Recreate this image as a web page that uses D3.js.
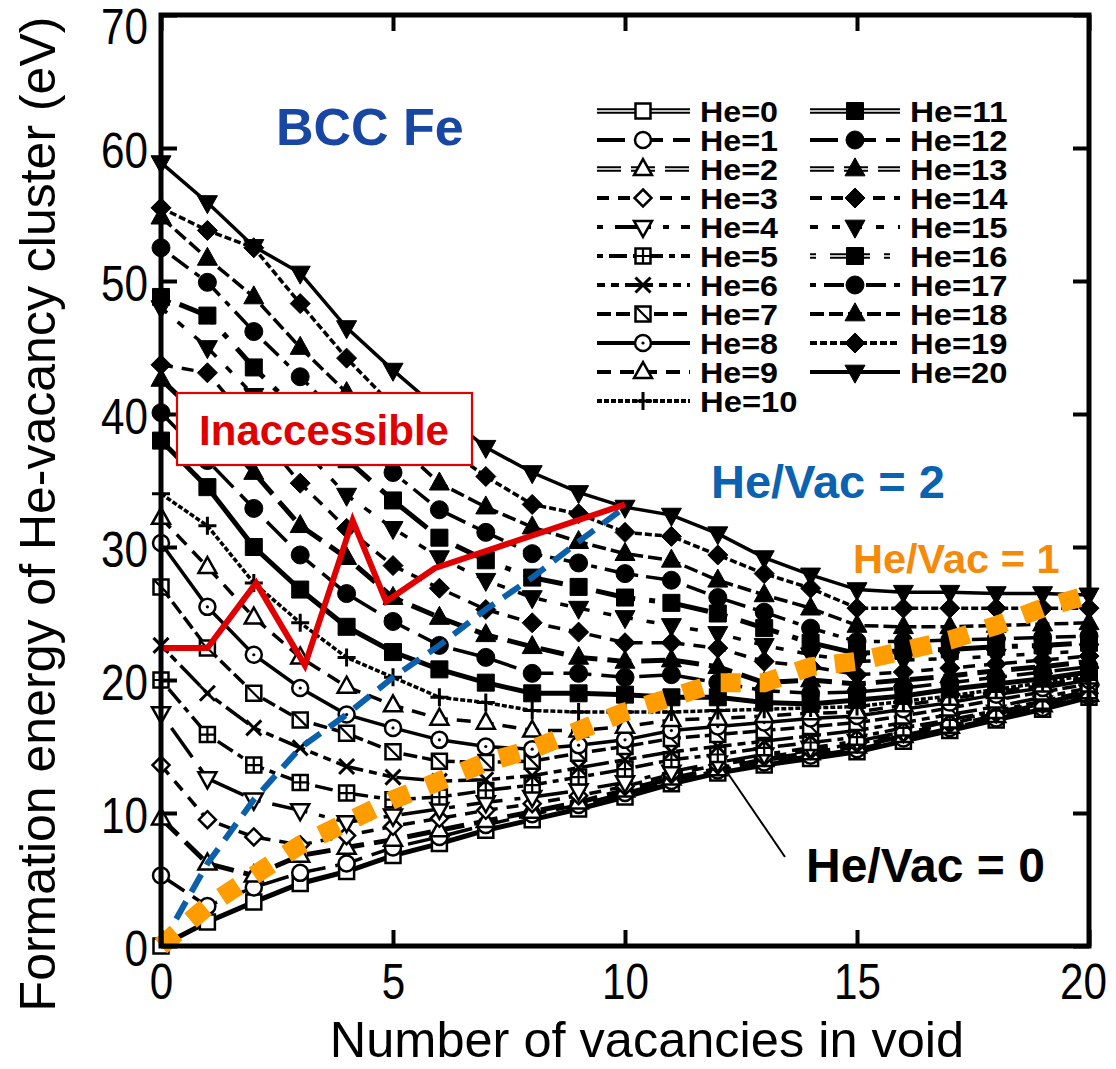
<!DOCTYPE html>
<html>
<head>
<meta charset="utf-8">
<script src="https://cdn.jsdelivr.net/npm/d3@7"></script>
<style>
  body { margin: 0; background: #fff; }
  svg { display: block; }
</style>
</head>
<body>
<svg id="chart" width="1116" height="1069"></svg>
<script>
// Formation energy (eV) of He_n V_m clusters in BCC Fe, m = 0..20 vacancies
const vacancies = d3.range(0, 21);

const he0  = [0.0, 1.8, 3.3, 4.7, 5.6, 6.8, 7.7, 8.7, 9.5, 10.3, 11.2, 12.2, 13.0, 13.6, 14.1, 14.6, 15.4, 16.2, 17.0, 17.8, 18.7];
const he1  = [5.3, 3.0, 4.4, 5.5, 6.2, 7.4, 8.2, 9.1, 9.9, 10.6, 11.5, 12.4, 13.2, 13.8, 14.3, 14.8, 15.6, 16.4, 17.1, 17.9, 18.8];
const he2  = [9.6, 6.2, 5.3, 6.8, 7.4, 8.0, 8.7, 9.4, 10.1, 10.8, 11.7, 12.6, 13.3, 14.0, 14.5, 15.0, 15.8, 16.5, 17.3, 18.1, 18.9];
const he3  = [13.6, 9.5, 8.2, 7.6, 8.3, 9.0, 9.6, 10.2, 10.7, 11.3, 12.0, 12.9, 13.6, 14.2, 14.7, 15.2, 16.0, 16.7, 17.5, 18.2, 19.0];
const he4  = [17.5, 12.6, 11.0, 10.2, 9.3, 9.8, 10.3, 10.8, 11.2, 11.7, 12.3, 13.1, 13.8, 14.4, 14.9, 15.4, 16.1, 16.9, 17.6, 18.3, 19.1];
const he5  = [20.0, 15.9, 13.6, 12.3, 11.5, 11.0, 11.2, 11.7, 12.1, 12.7, 13.3, 14.0, 14.4, 14.9, 15.3, 15.7, 16.4, 17.0, 17.7, 18.4, 19.2];
const he6  = [22.6, 19.0, 16.4, 14.9, 13.5, 12.7, 12.4, 12.5, 12.8, 13.4, 14.0, 14.6, 15.0, 15.4, 15.8, 16.2, 16.8, 17.4, 18.0, 18.7, 19.4];
const he7  = [27.0, 22.4, 19.0, 17.0, 16.0, 14.6, 13.9, 13.8, 13.9, 14.5, 15.0, 15.6, 15.9, 16.2, 16.5, 16.8, 17.3, 17.9, 18.5, 19.1, 19.7];
const he8  = [30.3, 25.5, 21.9, 19.4, 17.4, 16.4, 15.5, 15.0, 14.8, 15.1, 15.5, 16.2, 16.5, 16.8, 17.1, 17.3, 17.8, 18.3, 18.9, 19.4, 20.0];
const he9  = [32.2, 28.5, 24.7, 21.7, 19.5, 18.1, 17.1, 16.8, 16.2, 16.2, 16.5, 17.0, 17.1, 17.3, 17.5, 17.6, 18.1, 18.6, 19.1, 19.6, 20.2];
const he10 = [34.0, 31.6, 27.3, 24.3, 21.7, 20.2, 18.7, 18.3, 17.7, 17.6, 17.6, 17.6, 17.7, 17.8, 17.9, 18.0, 18.4, 18.8, 19.3, 19.8, 20.4];
const he11 = [38.0, 34.5, 30.0, 26.8, 24.0, 22.1, 20.8, 19.8, 19.0, 19.0, 18.9, 18.7, 18.7, 18.3, 18.2, 18.5, 18.8, 19.3, 19.7, 20.1, 20.6];
const he12 = [40.1, 36.5, 32.9, 29.4, 26.5, 24.4, 22.6, 21.7, 20.5, 20.5, 20.2, 20.4, 19.8, 19.2, 19.0, 19.1, 19.4, 19.8, 20.2, 20.6, 21.0];
const he13 = [42.6, 39.3, 35.6, 31.6, 29.2, 26.2, 24.7, 23.4, 22.5, 21.7, 21.4, 21.5, 21.0, 19.8, 20.0, 19.7, 20.0, 20.3, 20.7, 21.0, 21.4];
const he14 = [43.7, 43.1, 39.0, 34.8, 31.4, 28.6, 26.9, 25.3, 24.3, 23.6, 22.8, 22.8, 22.4, 21.4, 21.0, 20.4, 20.6, 20.9, 21.2, 21.5, 21.8];
const he15 = [48.0, 45.0, 41.4, 37.6, 33.9, 31.4, 29.2, 27.5, 26.2, 25.4, 24.7, 24.1, 23.5, 22.6, 21.9, 21.4, 21.5, 21.6, 21.8, 22.0, 22.2];
const he16 = [48.8, 47.4, 43.5, 40.0, 36.6, 33.5, 30.7, 29.0, 27.7, 27.0, 26.2, 25.8, 25.0, 23.9, 22.8, 22.0, 22.2, 22.3, 22.5, 22.6, 22.8];
const he17 = [52.5, 49.9, 46.2, 42.8, 39.3, 35.6, 32.8, 31.1, 29.5, 28.8, 28.0, 27.5, 26.2, 25.1, 23.9, 22.9, 22.9, 23.0, 23.1, 23.2, 23.3];
const he18 = [54.8, 51.7, 48.8, 45.0, 41.6, 38.0, 34.8, 33.0, 31.5, 30.4, 29.5, 29.0, 27.5, 26.4, 25.4, 24.1, 24.0, 24.0, 24.1, 24.2, 24.3];
const he19 = [55.5, 53.8, 52.5, 48.3, 44.2, 40.6, 37.8, 35.3, 33.2, 32.5, 31.1, 30.8, 29.4, 28.0, 26.9, 25.4, 25.4, 25.4, 25.4, 25.4, 25.4];
const he20 = [58.9, 55.9, 52.6, 50.6, 46.5, 43.3, 40.3, 37.5, 35.6, 34.1, 33.0, 32.4, 31.0, 29.2, 27.9, 26.8, 26.6, 26.6, 26.5, 26.5, 26.4];

const heSeries = [he0, he1, he2, he3, he4, he5, he6, he7, he8, he9, he10,
                  he11, he12, he13, he14, he15, he16, he17, he18, he19, he20];
const seriesLabels = heSeries.map((_, i) => `He=${i}`);

// Boundary of the inaccessible region
const inaccessibleX = [0, 1, 2.05, 3.1, 4.13, 4.85, 5.9, 10];
const inaccessibleY = [22.4, 22.4, 27.3, 21.1, 32.0, 25.9, 28.4, 33.2];

const xTicks = [0, 5, 10, 15, 20];
const yTicks = [0, 10, 20, 30, 40, 50, 60, 70];

// Marker and line pattern for each He count
const seriesStyle = [
  { marker: "sq",       dash: null,           dbl: true  },
  { marker: "circ",     dash: "28,10",        dbl: false },
  { marker: "tri",      dash: "24,10",        dbl: true  },
  { marker: "dia",      dash: "12,9",         dbl: false },
  { marker: "tridown",  dash: "6,12,36,12",   dbl: false },
  { marker: "sqplus",   dash: "6,6,18,6",     dbl: false },
  { marker: "cross",    dash: "8,6,8,6,28,6", dbl: false },
  { marker: "sqdiag",   dash: "14,5",         dbl: false },
  { marker: "circdot",  dash: null,           dbl: false },
  { marker: "tri",      dash: "14,9",         dbl: false },
  { marker: "plus",     dash: "5,2",          dbl: false },
  { marker: "fsq",      dash: null,           dbl: true  },
  { marker: "fcirc",    dash: "28,10",        dbl: false },
  { marker: "ftri",     dash: "24,10",        dbl: true  },
  { marker: "fdia",     dash: "12,9",         dbl: false },
  { marker: "ftridown", dash: "8,14",         dbl: false },
  { marker: "fsq",      dash: "6,14,40,14",   dbl: true  },
  { marker: "fcirc",    dash: "6,8,20,8",     dbl: false },
  { marker: "ftri",     dash: "14,5",         dbl: false },
  { marker: "fdia",     dash: "7,3",          dbl: false },
  { marker: "ftridown", dash: null,           dbl: false }
];

const svg = d3.select("#chart");
const x = d3.scaleLinear().domain([0, 20]).range([161, 1089]);
const y = d3.scaleLinear().domain([0, 70]).range([946, 15]);

const sansFont = "'Liberation Sans', Arial, Helvetica, sans-serif";

// ---------- marker drawing ----------
function drawMarker(g, type, cx, cy) {
  const m = g.append("g").attr("transform", `translate(${cx},${cy})`);
  const open = { fill: "#fff", stroke: "#000", "stroke-width": 2.5 };
  const solid = { fill: "#000", stroke: "#000", "stroke-width": 1 };
  const apply = (sel, a) => { Object.entries(a).forEach(([k, v]) => sel.attr(k, v)); return sel; };
  const sq = s => `M${-s},${-s}h${2 * s}v${2 * s}h${-2 * s}Z`;
  const triUp = (w, h) => `M0,${-h * 0.62}L${w / 2},${h * 0.38}L${-w / 2},${h * 0.38}Z`;
  const triDn = (w, h) => `M0,${h * 0.62}L${w / 2},${-h * 0.38}L${-w / 2},${-h * 0.38}Z`;
  const dia = r => `M0,${-r}L${r},0L0,${r}L${-r},0Z`;
  switch (type) {
    case "sq": apply(m.append("path").attr("d", sq(7.5)), open); break;
    case "circ": apply(m.append("circle").attr("r", 8), open); break;
    case "tri": apply(m.append("path").attr("d", triUp(18, 16)), open); break;
    case "tridown": apply(m.append("path").attr("d", triDn(18, 16)), open); break;
    case "dia": apply(m.append("path").attr("d", dia(8.5)), open); break;
    case "sqplus":
      apply(m.append("path").attr("d", sq(7.5)), open);
      m.append("path").attr("d", "M-7.5,0h15M0,-7.5v15").attr("stroke", "#000").attr("stroke-width", 2.2);
      break;
    case "sqdiag":
      apply(m.append("path").attr("d", sq(7.5)), open);
      m.append("path").attr("d", "M-7.5,-7.5L7.5,7.5").attr("stroke", "#000").attr("stroke-width", 2.2);
      break;
    case "cross":
      m.append("path").attr("d", "M-7.5,-7.5L7.5,7.5M7.5,-7.5L-7.5,7.5").attr("stroke", "#000").attr("stroke-width", 3);
      break;
    case "plus":
      m.append("path").attr("d", "M-9,0h18M0,-9v18").attr("stroke", "#000").attr("stroke-width", 3);
      break;
    case "circdot":
      apply(m.append("circle").attr("r", 8), open);
      m.append("circle").attr("r", 1.6).attr("fill", "#000");
      break;
    case "fsq": apply(m.append("path").attr("d", sq(8.5)), solid); break;
    case "fcirc": apply(m.append("circle").attr("r", 9), solid); break;
    case "ftri": apply(m.append("path").attr("d", triUp(20, 18)), solid); break;
    case "ftridown": apply(m.append("path").attr("d", triDn(20, 18)), solid); break;
    case "fdia": apply(m.append("path").attr("d", dia(10)), solid); break;
  }
}

// Draws a series line; in the legend the "double" styles get a thin white core
function drawStyledPath(g, d, st, width, core) {
  const w = st.dbl ? width + 1.5 : width;
  const p = g.append("path").attr("d", d).attr("fill", "none")
    .attr("stroke", "#000").attr("stroke-width", w);
  if (st.dash) p.attr("stroke-dasharray", st.dash);
  if (st.dbl && core) {
    const q = g.append("path").attr("d", d).attr("fill", "none")
      .attr("stroke", "#fff").attr("stroke-width", 1.3);
    if (st.dash) q.attr("stroke-dasharray", st.dash);
  }
}

// ---------- series ----------
const line = d3.line().x(d => x(d[0])).y(d => y(d[1]));
const gSeries = svg.append("g");
heSeries.forEach((vals, i) => {
  const st = seriesStyle[i];
  const pts = vacancies.map((v, k) => [v, vals[k]]);
  const g = gSeries.append("g");
  drawStyledPath(g, line(pts), st, 3.5, false);
  pts.forEach(p => drawMarker(g, st.marker, x(p[0]), y(p[1])));
});

// ---------- guide lines ----------
// He/Vac = 2 : He_{2m} V_m
const ratio2 = d3.range(0, 11).map(m => [m, heSeries[2 * m][m]]);
svg.append("path").attr("d", line(ratio2)).attr("fill", "none")
  .attr("stroke", "#0b5fab").attr("stroke-width", 6).attr("stroke-dasharray", "20,11");

// He/Vac = 1 : He_m V_m
const ratio1 = vacancies.map(m => [m, heSeries[m][m]]);
svg.append("path").attr("d", line(ratio1)).attr("fill", "none")
  .attr("stroke", "#ff9c00").attr("stroke-width", 19).attr("stroke-dasharray", "20,19");

// inaccessible boundary
const redPts = inaccessibleX.map((v, i) => [v, inaccessibleY[i]]);
svg.append("path").attr("d", line(redPts)).attr("fill", "none")
  .attr("stroke", "#e00000").attr("stroke-width", 6).attr("stroke-linejoin", "miter");

// ---------- frame and axes ----------
const tickStyle = g => {
  g.select(".domain").remove();
  g.selectAll(".tick line").attr("stroke", "#000").attr("stroke-width", 4);
};
// condensed numerals: squeeze each label to a fixed advance per digit
const narrow = sel => sel.attr("font-family", sansFont).attr("font-size", 50).attr("fill", "#000")
  .attr("textLength", d => String(d).length * 23.5).attr("lengthAdjust", "spacingAndGlyphs");

svg.append("g").attr("transform", `translate(0,${y(0)})`)
  .call(d3.axisBottom(x).tickValues(xTicks).tickSizeInner(-16).tickSizeOuter(0).tickPadding(16))
  .call(tickStyle)
  .call(g => g.selectAll(".tick text").call(narrow).attr("dy", "0.74em")
    .attr("x", d => d === 20 ? -6 : 0));
svg.append("g").attr("transform", `translate(${x(0)},0)`)
  .call(d3.axisLeft(y).tickValues(yTicks).tickSizeInner(-16).tickSizeOuter(0).tickPadding(13))
  .call(tickStyle)
  .call(g => g.selectAll(".tick text").call(narrow)
    .attr("dy", null).attr("y", d => Math.max(19, 43 - y(d))));
svg.append("g").attr("transform", `translate(0,${y(70)})`)
  .call(d3.axisTop(x).tickValues(xTicks).tickSizeInner(-16).tickSizeOuter(0).tickFormat(""))
  .call(tickStyle);
svg.append("g").attr("transform", `translate(${x(20)},0)`)
  .call(d3.axisRight(y).tickValues(yTicks).tickSizeInner(-16).tickSizeOuter(0).tickFormat(""))
  .call(tickStyle);
svg.append("rect").attr("x", x(0)).attr("y", y(70))
  .attr("width", x(20) - x(0)).attr("height", y(0) - y(70))
  .attr("fill", "none").attr("stroke", "#000").attr("stroke-width", 5);

// axis titles
svg.append("text").attr("x", 647).attr("y", 1057)
  .attr("text-anchor", "middle").attr("font-family", sansFont).attr("font-size", 50.5)
  .text("Number of vacancies in void");
svg.append("text").attr("transform", "translate(55,514) rotate(-90)")
  .attr("text-anchor", "middle").attr("font-family", sansFont).attr("font-size", 50)
  .text("Formation energy of He-vacancy cluster (eV)");

// ---------- annotations ----------
svg.append("rect").attr("x", 177).attr("y", 393).attr("width", 295).attr("height", 72)
  .attr("fill", "#fff").attr("stroke", "#e00000").attr("stroke-width", 2.2);
svg.append("text").attr("x", 324).attr("y", 445).attr("text-anchor", "middle")
  .attr("font-family", sansFont).attr("font-weight", "bold").attr("font-size", 42)
  .attr("fill", "#e00000").text("Inaccessible");

svg.append("text").attr("x", 276).attr("y", 145)
  .attr("font-family", sansFont).attr("font-weight", "bold").attr("font-size", 52)
  .attr("fill", "#1846a3").text("BCC Fe");

svg.append("text").attr("x", 711).attr("y", 498)
  .attr("font-family", sansFont).attr("font-weight", "bold").attr("font-size", 47)
  .attr("fill", "#0b62b0").text("He/Vac = 2");

svg.append("text").attr("x", 853).attr("y", 573)
  .attr("font-family", sansFont).attr("font-weight", "bold").attr("font-size", 41.5)
  .attr("fill", "#f5890a").text("He/Vac = 1");

svg.append("line").attr("x1", 727).attr("y1", 772).attr("x2", 785).attr("y2", 857)
  .attr("stroke", "#000").attr("stroke-width", 2);
svg.append("text").attr("x", 806).attr("y", 882)
  .attr("font-family", sansFont).attr("font-weight", "bold").attr("font-size", 48)
  .attr("fill", "#000").text("He/Vac = 0");

// ---------- legend ----------
const gLegend = svg.append("g");
seriesLabels.forEach((label, i) => {
  const col = i < 11 ? 0 : 1;
  const row = i < 11 ? i : i - 11;
  const x0 = col === 0 ? 597 : 810;
  const x1 = col === 0 ? 690 : 900;
  const mx = col === 0 ? 643 : 855;
  const tx = col === 0 ? 700 : 910;
  const ry = 111 + 29 * row;
  const g = gLegend.append("g");
  drawStyledPath(g, `M${x0},${ry}H${x1}`, seriesStyle[i], 4, true);
  drawMarker(g, seriesStyle[i].marker, mx, ry);
  g.append("text").attr("x", tx).attr("y", ry + 11)
    .attr("font-family", sansFont).attr("font-weight", "bold").attr("font-size", 29)
    .attr("textLength", label.length * 19.5).attr("lengthAdjust", "spacingAndGlyphs")
    .attr("fill", "#000").text(label);
});
</script>
</body>
</html>
